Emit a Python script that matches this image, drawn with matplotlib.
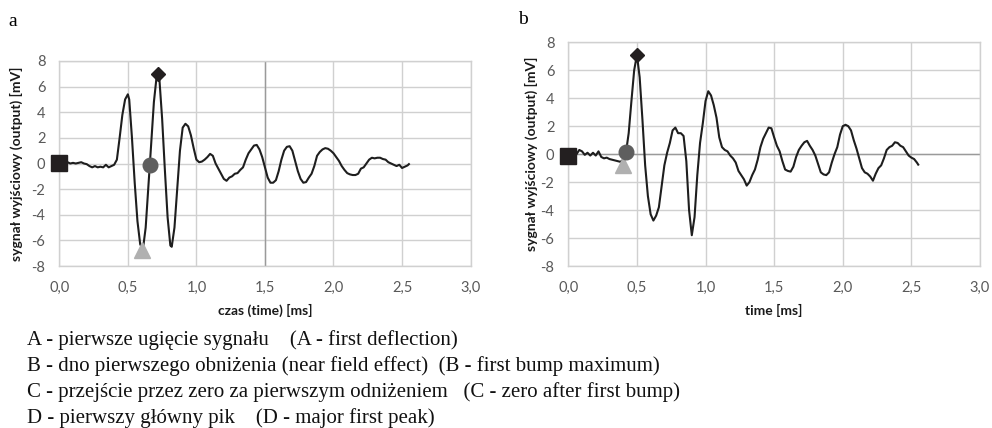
import matplotlib
matplotlib.use("Agg")
import matplotlib.pyplot as plt
import numpy as np

# ---------------- data ----------------
time_a = [0.00, 0.02, 0.04, 0.06, 0.08, 0.10, 0.12, 0.14, 0.16, 0.18, 0.20, 0.22, 0.24, 0.26, 0.28, 0.30,
          0.32, 0.34, 0.36, 0.38, 0.40, 0.42, 0.44, 0.46, 0.48, 0.50, 0.51, 0.53, 0.55, 0.57, 0.59, 0.61,
          0.63, 0.65, 0.67, 0.69, 0.71, 0.72, 0.73, 0.75, 0.77, 0.79, 0.81, 0.82, 0.84, 0.86, 0.88, 0.90,
          0.92, 0.94, 0.96, 0.98, 1.00, 1.02, 1.04, 1.06, 1.08, 1.10, 1.12, 1.14, 1.16, 1.18, 1.20, 1.22,
          1.24, 1.26, 1.28, 1.30, 1.32, 1.34, 1.36, 1.38, 1.40, 1.42, 1.44, 1.46, 1.48, 1.50, 1.52, 1.54,
          1.56, 1.58, 1.60, 1.62, 1.64, 1.66, 1.68, 1.70, 1.72, 1.74, 1.76, 1.78, 1.80, 1.82, 1.84, 1.86,
          1.88, 1.90, 1.92, 1.94, 1.96, 1.98, 2.00, 2.02, 2.04, 2.06, 2.08, 2.10, 2.12, 2.14, 2.16, 2.18,
          2.20, 2.22, 2.24, 2.26, 2.28, 2.30, 2.32, 2.34, 2.36, 2.38, 2.40, 2.42, 2.44, 2.46, 2.48, 2.50,
          2.52, 2.54, 2.55]
signal_a = [0.05, 0.05, 0.0, 0.1, 0.0, 0.05, 0.0, 0.05, 0.1, 0.0, -0.05, -0.2, -0.3, -0.2, -0.3, -0.25,
            -0.3, -0.1, -0.3, -0.2, -0.1, 0.3, 2.0, 3.8, 5.0, 5.4, 5.0, 2.0, -1.5, -4.5, -6.3, -6.7,
            -5.0, -1.8, 1.5, 4.8, 6.8, 7.0, 6.6, 3.5, -0.5, -4.2, -6.4, -6.5, -5.0, -2.0, 1.0, 2.8,
            3.1, 2.9, 2.2, 1.2, 0.3, 0.1, 0.15, 0.3, 0.5, 0.75, 0.6, 0.0, -0.4, -0.8, -1.2, -1.35,
            -1.1, -1.0, -0.8, -0.75, -0.5, -0.3, 0.3, 0.8, 1.1, 1.4, 1.45, 1.1, 0.5, -0.3, -1.1, -1.5,
            -1.5, -1.3, -0.6, 0.3, 1.0, 1.3, 1.35, 1.0, 0.2, -0.6, -1.2, -1.5, -1.45, -1.1, -0.8, -0.2,
            0.6, 0.9, 1.1, 1.2, 1.15, 1.0, 0.8, 0.5, 0.2, -0.2, -0.5, -0.75, -0.85, -0.9, -0.9, -0.8,
            -0.4, -0.3, 0.0, 0.3, 0.45, 0.4, 0.45, 0.45, 0.35, 0.3, 0.1, 0.0, -0.1, -0.2, -0.1, -0.35,
            -0.25, -0.15, -0.05]

time_b = [0.00, 0.02, 0.04, 0.06, 0.08, 0.10, 0.12, 0.14, 0.16, 0.18, 0.20, 0.22, 0.24, 0.26, 0.28, 0.30,
          0.32, 0.34, 0.36, 0.38, 0.40, 0.42, 0.44, 0.46, 0.48, 0.50, 0.52, 0.54, 0.56, 0.58, 0.60, 0.62,
          0.64, 0.66, 0.68, 0.70, 0.72, 0.74, 0.76, 0.78, 0.80, 0.82, 0.84, 0.86, 0.88, 0.90, 0.92, 0.94,
          0.96, 0.98, 1.00, 1.02, 1.04, 1.06, 1.08, 1.10, 1.12, 1.14, 1.16, 1.18, 1.20, 1.22, 1.24, 1.26,
          1.28, 1.30, 1.32, 1.34, 1.36, 1.38, 1.40, 1.42, 1.44, 1.46, 1.48, 1.50, 1.52, 1.54, 1.56, 1.58,
          1.60, 1.62, 1.64, 1.66, 1.68, 1.70, 1.72, 1.74, 1.76, 1.78, 1.80, 1.82, 1.84, 1.86, 1.88, 1.90,
          1.92, 1.94, 1.96, 1.98, 2.00, 2.02, 2.04, 2.06, 2.08, 2.10, 2.12, 2.14, 2.16, 2.18, 2.20, 2.22,
          2.24, 2.26, 2.28, 2.30, 2.32, 2.34, 2.36, 2.38, 2.40, 2.42, 2.44, 2.46, 2.48, 2.50, 2.52, 2.54,
          2.55]
signal_b = [-0.1, 0.0, 0.1, 0.0, 0.3, 0.2, -0.05, 0.1, -0.1, 0.1, -0.1, 0.2, -0.2, -0.3, -0.25, -0.35,
            -0.4, -0.45, -0.5, -0.55, -0.4, 0.1, 1.5, 3.8, 6.0, 7.1, 5.5, 2.5, -0.8, -3.0, -4.3, -4.75,
            -4.4, -3.8, -2.3, -0.8, 0.1, 0.8, 1.7, 1.9, 1.5, 1.5, 1.3, -0.5, -4.0, -5.8, -4.5, -1.5,
            0.8, 2.2, 3.8, 4.5, 4.2, 3.5, 2.6, 1.2, 0.5, 0.3, 0.2, -0.1, -0.3, -0.6, -1.2, -1.5,
            -1.8, -2.25, -2.0, -1.5, -1.1, -0.4, 0.5, 1.1, 1.5, 1.9, 1.85, 1.2, 0.6, 0.2, -0.5, -1.1,
            -1.2, -1.25, -0.9, -0.2, 0.3, 0.6, 0.85, 0.95, 0.6, 0.3, -0.1, -0.7, -1.3, -1.45, -1.5, -1.3,
            -0.6, 0.0, 0.5, 1.4, 2.0, 2.1, 2.0, 1.7, 1.0, 0.4, -0.3, -1.0, -1.3, -1.4, -1.6, -1.9,
            -1.4, -1.0, -0.8, -0.3, 0.3, 0.5, 0.6, 0.85, 0.8, 0.6, 0.5, 0.2, -0.1, -0.25, -0.35, -0.6,
            -0.75]

# characteristic points: A (square), B (triangle), C (circle), D (diamond)
points_a_t = [0.00, 0.60, 0.66, 0.717]
points_a_v = [0.05, -6.75, -0.12, 7.0]
points_b_t = [0.00, 0.40, 0.42, 0.498]
points_b_v = [-0.1, -0.8, 0.12, 7.1]

x_ticks = [0.0, 0.5, 1.0, 1.5, 2.0, 2.5, 3.0]
x_tick_labels = ["0,0", "0,5", "1,0", "1,5", "2,0", "2,5", "3,0"]
y_ticks = [-8, -6, -4, -2, 0, 2, 4, 6, 8]
y_tick_labels = ["-8", "-6", "-4", "-2", "0", "2", "4", "6", "8"]

ylabel = "sygnał wyjściowy (output) [mV]"
xlabel_a = "czas (time) [ms]"
xlabel_b = "time [ms]"
notes = [
    "A - pierwsze ugięcie sygnału    (A - first deflection)",
    "B - dno pierwszego obniżenia (near field effect)  (B - first bump maximum)",
    "C - przejście przez zero za pierwszym odniżeniem   (C - zero after first bump)",
    "D - pierwszy główny pik    (D - major first peak)",
]

# ---------------- drawing ----------------
W, H = 992, 428
fig = plt.figure(figsize=(W / 100, H / 100), dpi=100)

GRID = "#d0d0d0"
AXIS = "#9a9a9a"
TICK_COLOR = "#595959"
LINE = "#1e1e1e"


def px_rect(l, t, r, b):
    return [l / W, 1 - b / H, (r - l) / W, (b - t) / H]


def setup(ax, xlab, ylab_pad, darker_v=None, darker_h=None):
    ax.set_xlim(0, 3.0)
    ax.set_ylim(-8, 8)
    ax.set_xticks(x_ticks)
    ax.set_xticklabels(x_tick_labels)
    ax.set_yticks(y_ticks)
    ax.set_yticklabels(y_tick_labels)
    ax.grid(True, color=GRID, linewidth=1.0, zorder=0)
    ax.set_axisbelow(True)
    for s in ax.spines.values():
        s.set_color(GRID)
        s.set_linewidth(1.0)
    ax.tick_params(length=0, labelsize=10.5, labelcolor=TICK_COLOR)
    ax.tick_params(axis="y", pad=10)
    ax.tick_params(axis="x", pad=11)
    for lab in ax.get_xticklabels() + ax.get_yticklabels():
        lab.set_family("Lato")
    if darker_v is not None:
        ax.axvline(darker_v, color=AXIS, linewidth=1.0, zorder=1)
    if darker_h is not None:
        ax.axhline(darker_h, color=AXIS, linewidth=1.0, zorder=1)
    ax.set_xlabel(xlab, family="Lato", fontweight="bold", fontsize=10, color="#1a1a1a", labelpad=6)
    ax.set_ylabel(ylabel, family="Lato", fontweight="bold", fontsize=10, color="#1a1a1a",
                  labelpad=ylab_pad)


def markers(ax, tt, vv):
    ax.plot(tt[0], vv[0], marker="s", markersize=11, color="#231f20", zorder=5, linestyle="none",
            clip_on=False)
    ax.plot(tt[1], vv[1], marker="^", markersize=11, color="#b0b0b0", zorder=5, linestyle="none",
            clip_on=False)
    ax.plot(tt[2], vv[2], marker="o", markersize=10.5, color="#5e5e5e", zorder=6, linestyle="none",
            clip_on=False)
    ax.plot(tt[3], vv[3], marker="D", markersize=7, color="#231f20", zorder=6, linestyle="none",
            clip_on=False)


ax_a = fig.add_axes(px_rect(59.3, 61, 470.6, 266))
setup(ax_a, xlabel_a, 6.5, darker_v=1.5)
ax_a.plot(time_a, signal_a, color=LINE, linewidth=1.5, zorder=3)
markers(ax_a, points_a_t, points_a_v)

ax_b = fig.add_axes(px_rect(568.3, 42.3, 980, 266))
setup(ax_b, xlabel_b, 1.5, darker_h=0)
ax_b.plot(time_b, signal_b, color=LINE, linewidth=1.5, zorder=3)
markers(ax_b, points_b_t, points_b_v)

fig.text(13 / W, 1 - 21 / H, "a", family="Liberation Serif", fontsize=14, ha="center", va="center")
fig.text(523 / W, 1 - 20 / H, "b", family="Liberation Serif", fontsize=14, ha="center", va="center")

baselines = [345, 371, 397, 423]
for txt, b in zip(notes, baselines):
    fig.text(27 / W, 1 - b / H, txt, family="Liberation Serif", fontsize=15, ha="left", va="baseline",
             color="#111111")

fig.savefig("out.png", dpi=100, facecolor="white")
